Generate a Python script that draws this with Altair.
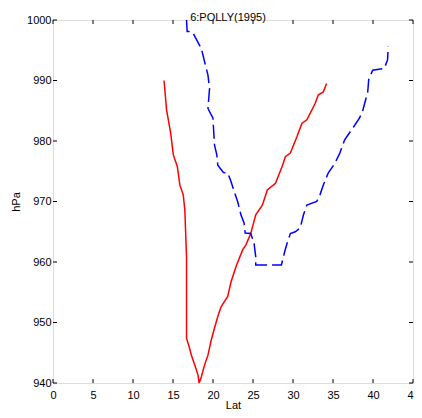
import altair as alt
import pandas as pd

# Red series (latitude, pressure) in time order
red_lat = [13.88, 14.2, 14.71, 15.04, 15.54, 15.86, 16.28, 16.48, 16.69, 16.69, 17.02, 17.3, 17.71, 18.13,
           18.26, 18.54, 18.95, 19.37, 19.78, 20.19, 20.6, 21.01, 21.84, 22.25, 22.87, 23.7, 24.1, 24.72,
           25.34, 26.17, 26.79, 27.81, 28.64, 29.05, 29.67, 30.49, 31.11, 31.73, 32.35, 32.76, 33.16,
           33.78, 34.2]
red_hpa = [990.0, 985.1, 981.3, 977.7, 975.8, 972.7, 971.1, 968.6, 960.9, 947.4, 946.0, 944.6, 943.0, 941.3,
           940.0, 941.0, 943.0, 944.6, 947.1, 949.1, 951.0, 952.6, 954.3, 956.7, 959.2, 962.0, 962.8, 964.7,
           967.8, 969.4, 971.9, 973.0, 975.8, 977.4, 978.0, 980.7, 982.9, 983.5, 985.1, 986.2, 987.6,
           988.1, 989.5]

# Blue dashed series (latitude, pressure)
blue_lat = [16.69, 16.77, 17.3, 17.52, 17.84, 18.54, 18.95, 19.37, 19.57, 19.37, 19.78, 19.99, 20.19, 20.48,
            20.6, 21.3, 21.84, 22.25, 22.66, 23.08, 23.49, 23.89, 24.02, 24.72, 25.13, 25.34, 25.34, 28.55,
            28.96, 29.26, 29.67, 30.28, 30.9, 31.31, 31.73, 32.97, 33.37, 33.78, 34.4, 35.23, 35.85, 36.46,
            37.61, 38.32, 38.73, 39.34, 39.47, 39.96, 41.41, 41.82, 41.9]
blue_hpa = [1000.0, 998.1, 998.1, 997.8, 997.0, 995.3, 993.1, 990.9, 988.7, 985.4, 984.3, 983.8, 979.3, 977.7,
            976.0, 974.8, 974.7, 973.3, 971.6, 970.0, 967.8, 966.4, 964.8, 964.7, 963.1, 960.9, 959.5, 959.5,
            961.7, 963.1, 964.7, 965.0, 965.6, 967.8, 969.4, 970.0, 971.1, 972.7, 974.7, 976.3, 978.0, 980.2,
            982.4, 983.8, 985.1, 988.1, 990.2, 991.7, 992.0, 993.4, 995.6]

x_ticks = [0, 5, 10, 15, 20, 25, 30, 35, 40, 45]
y_ticks = [940, 950, 960, 970, 980, 990, 1000]
title_text = ["6:POLLY(1995)"]

W, H = 360, 363
FONT = "Liberation Sans"

red = pd.DataFrame({"lat": red_lat, "hpa": red_hpa, "order": range(len(red_lat))})
blue = pd.DataFrame({"lat": blue_lat, "hpa": blue_hpa, "order": range(len(blue_lat))})
xt = pd.DataFrame({"lat": x_ticks})
yt = pd.DataFrame({"hpa": y_ticks})

xscale = alt.Scale(domain=[0, 45], nice=False)
yscale = alt.Scale(domain=[940, 1000], nice=False, zero=False)

xaxis = alt.Axis(values=x_ticks, tickSize=0, domain=False, grid=False, labelPadding=6, format="d",
                 labelFont=FONT, labelFontSize=11, labelColor="black", labelOverlap=False,
                 title="Lat", titleFont=FONT, titleFontSize=11, titleFontWeight="normal",
                 titleColor="black", titleBaseline="alphabetic", titleY=25, labelFlush=False)
yaxis = alt.Axis(values=y_ticks, tickSize=0, domain=False, grid=False, labelPadding=2, format="d",
                 labelFont=FONT, labelFontSize=11, labelColor="black", labelOverlap=False,
                 title="hPa", titleFont=FONT, titleFontSize=11, titleFontWeight="normal",
                 titleColor="black", titlePadding=5, labelFlush=False)

X = alt.X("lat:Q", scale=xscale, axis=xaxis, title="Lat")
Y = alt.Y("hpa:Q", scale=yscale, axis=yaxis, title="hPa")

red_line = alt.Chart(red).mark_line(color="#ff0000", strokeWidth=1.5).encode(
    x=X, y=Y, order="order:Q",
)
blue_line = alt.Chart(blue).mark_line(color="#0000ff", strokeWidth=1.5, strokeDash=[14, 5]).encode(
    x=X, y=Y, order="order:Q",
)

tick_bottom = alt.Chart(xt).mark_rule(color="black", strokeWidth=1).encode(
    x=X, y=alt.value(H), y2=alt.value(H - 4))
tick_top = alt.Chart(xt).mark_rule(color="black", strokeWidth=1).encode(
    x=X, y=alt.value(0), y2=alt.value(4))
tick_left = alt.Chart(yt).mark_rule(color="black", strokeWidth=1).encode(
    y=Y, x=alt.value(0), x2=alt.value(4))
tick_right = alt.Chart(yt).mark_rule(color="black", strokeWidth=1).encode(
    y=Y, x=alt.value(W), x2=alt.value(W - 4))

title = alt.Chart(pd.DataFrame({"t": title_text})).mark_text(
    font=FONT, fontSize=11, color="black", baseline="middle", align="center"
).encode(text="t:N", x=alt.value(175), y=alt.value(-2))

chart = alt.layer(red_line, blue_line, tick_bottom, tick_top, tick_left, tick_right, title).properties(
    width=W, height=H,
    autosize=alt.AutoSizeParams(type="none"),
    padding={"left": 45, "top": 12, "right": 1, "bottom": 27},
).configure_view(stroke="black", strokeWidth=1.2).configure(background="white")

chart.save("out.html", embed_options={"renderer": "svg", "actions": False})
